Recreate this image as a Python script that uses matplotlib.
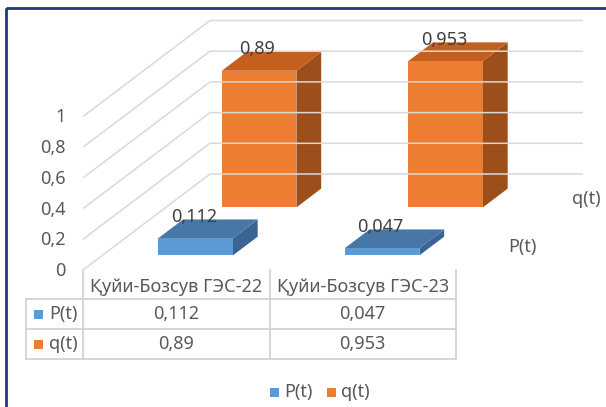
import numpy as np
import matplotlib.pyplot as plt
from matplotlib.patches import Polygon, Rectangle

plt.rcParams['font.family'] = ['Noto Sans', 'DejaVu Sans']

# chart data
categories = ['Қуйи-Бозсув ГЭС-22', 'Қуйи-Бозсув ГЭС-23']
series_names = ['P(t)', 'q(t)']
p_values = [0.112, 0.047]
q_values = [0.89, 0.953]
y_ticks = [0, 0.2, 0.4, 0.6, 0.8, 1.0]

front_colors = ['#5B9BD5', '#ED7D31']
top_colors = ['#4677A6', '#C3601F']
side_colors = ['#3A6592', '#9C4F1B']
text_color = '#595959'
grid_color = '#D9D9D9'
FS = 13

# oblique projection of the plot box onto the canvas (pixels)
X0, Y0 = 83.0, 270.0          # front-left corner of the floor
CAT_W = 186.5                 # width of one category on the front plane
V_SCALE = 153.5               # pixels per unit value
DEPTH = np.array([127.0, -96.0])  # screen offset of the full depth
BAR_W = 0.4                   # bar width as a fraction of the category
BAR_D = 0.195                 # bar depth as a fraction of the full depth


def proj(x, v, z):
    """category position x, value v, depth z (0 front .. 1 back) -> pixels"""
    return (X0 + x * CAT_W + z * DEPTH[0], Y0 - v * V_SCALE + z * DEPTH[1])


def fmt(v):
    return ('%g' % v).replace('.', ',')


def draw_bar(ax, cat, value, z_mid, k):
    x1, x2 = cat + 0.5 - BAR_W / 2, cat + 0.5 + BAR_W / 2
    z1, z2 = z_mid - BAR_D / 2, z_mid + BAR_D / 2
    side = [proj(x2, 0, z1), proj(x2, 0, z2), proj(x2, value, z2), proj(x2, value, z1)]
    top = [proj(x1, value, z1), proj(x2, value, z1), proj(x2, value, z2), proj(x1, value, z2)]
    front = [proj(x1, 0, z1), proj(x2, 0, z1), proj(x2, value, z1), proj(x1, value, z1)]
    ax.add_patch(Polygon(side, closed=True, fc=side_colors[k], ec='none'))
    ax.add_patch(Polygon(top, closed=True, fc=top_colors[k], ec='none'))
    ax.add_patch(Polygon(front, closed=True, fc=front_colors[k], ec='none'))
    lx, ly = proj(cat + 0.5, value, z_mid)
    ax.text(lx - 14, ly - 12, fmt(value), ha='center', va='center',
            fontsize=FS, color='#404040')


fig = plt.figure(figsize=(6.06, 4.07), dpi=100)
ax = fig.add_axes([0, 0, 1, 1])
ax.set_xlim(0, 606)
ax.set_ylim(407, 0)
ax.axis('off')

# outer frame
ax.add_patch(Rectangle((6, 8), 610, 410, fill=False, ec='#1F3A78', lw=2.0))

n_cat = len(categories)

# gridlines: diagonal along the side wall, then across the back wall
for v in y_ticks:
    pts = [proj(0, v, 0), proj(0, v, 1), proj(n_cat, v, 1)]
    xs, ys = zip(*pts)
    ax.plot(xs, ys, color=grid_color, lw=1.1, solid_capstyle='butt')
    fx, fy = proj(0, v, 0)
    ax.text(fx - 17, fy + 1, fmt(v), ha='right', va='center',
            fontsize=FS, color=text_color)

# bars, back row first
depth_mid = [0.25, 0.75]
for k, vals in reversed(list(enumerate([p_values, q_values]))):
    for i, v in enumerate(vals):
        draw_bar(ax, i, v, depth_mid[k], k)

# series names along the depth axis
for k, name in enumerate(series_names):
    sx, sy = proj(n_cat, 0, depth_mid[k])
    ax.text(sx + 21, sy + 1, name, ha='left', va='center', fontsize=FS, color=text_color)

# data table under the plot
row_y = [299, 329, 359]
table_left = 26
tx_right = proj(n_cat, 0, 0)[0]
for ry in row_y:
    ax.plot([table_left, tx_right], [ry, ry], color='#D0D0D0', lw=1.2)
ax.plot([table_left, table_left], [row_y[0], row_y[-1]], color='#D0D0D0', lw=1.2)
for i in range(n_cat + 1):
    cx = proj(i, 0, 0)[0]
    ax.plot([cx, cx], [Y0, row_y[-1]], color='#D0D0D0', lw=1.2)

for i, cat in enumerate(categories):
    cx = proj(i + 0.5, 0, 0)[0]
    ax.text(cx, 287, cat, ha='center', va='center', fontsize=FS, color=text_color)

for k, (name, vals) in enumerate(zip(series_names, [p_values, q_values])):
    ry = (row_y[k] + row_y[k + 1]) / 2
    ax.add_patch(Rectangle((34, ry - 4.5), 9, 9, fc=front_colors[k], ec='none'))
    ax.text(49, ry, name, ha='left', va='center', fontsize=FS, color=text_color)
    for i, v in enumerate(vals):
        cx = proj(i + 0.5, 0, 0)[0]
        ax.text(cx, ry, fmt(v), ha='center', va='center', fontsize=FS, color=text_color)

# legend
leg_x = [270, 327]
for k, name in enumerate(series_names):
    ax.add_patch(Rectangle((leg_x[k], 388), 9, 9, fc=front_colors[k], ec='none'))
    ax.text(leg_x[k] + 14, 392, name, ha='left', va='center', fontsize=FS, color=text_color)

fig.savefig('out.png', dpi=100)
